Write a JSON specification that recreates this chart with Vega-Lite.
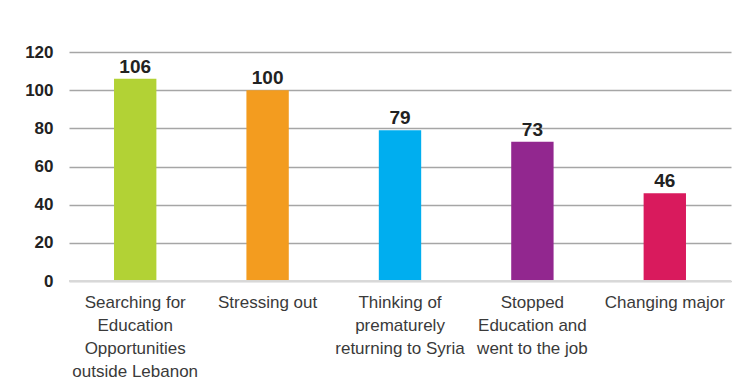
{
  "$schema": "https://vega.github.io/schema/vega-lite/v6.json",
  "autosize": "none",
  "width": 662,
  "height": 229,
  "padding": {"left": 69, "top": 52, "right": 24, "bottom": 104},
  "background": "white",
  "config": {
    "view": {"stroke": null},
    "font": "Liberation Sans"
  },
  "data": {
    "values": [
      {"category": "Searching for Education Opportunities outside Lebanon", "value": 106, "color": "#b2d235"},
      {"category": "Stressing out", "value": 100, "color": "#f39c1f"},
      {"category": "Thinking of prematurely returning to Syria", "value": 79, "color": "#00aeef"},
      {"category": "Stopped Education and went to the job", "value": 73, "color": "#92278f"},
      {"category": "Changing major", "value": 46, "color": "#d91a5d"}
    ]
  },
  "encoding": {
    "x": {
      "field": "category",
      "type": "nominal",
      "sort": null,
      "scale": {"paddingInner": 0.68, "paddingOuter": 0.34},
      "axis": {
        "title": null,
        "labelAngle": 0,
        "domain": false,
        "ticks": false,
        "labelPadding": 13,
        "labelFontSize": 17,
        "labelColor": "#3a3a3a",
        "labelLineHeight": 23,
        "labelBaseline": "top",
        "labelLimit": 220,
        "labelExpr": "datum.value == 'Searching for Education Opportunities outside Lebanon' ? ['Searching for','Education','Opportunities','outside Lebanon'] : datum.value == 'Thinking of prematurely returning to Syria' ? ['Thinking of','prematurely','returning to Syria'] : datum.value == 'Stopped Education and went to the job' ? ['Stopped','Education and','went to the job'] : datum.value"
      }
    },
    "y": {
      "field": "value",
      "type": "quantitative",
      "scale": {"domain": [0, 120]},
      "axis": {
        "title": null,
        "values": [0, 20, 40, 60, 80, 100, 120],
        "domain": false,
        "ticks": false,
        "labelPadding": 16,
        "labelFontSize": 17,
        "labelFontWeight": "bold",
        "labelColor": "#222222",
        "gridColor": "#a6a6a6",
        "gridWidth": 1.5
      }
    }
  },
  "layer": [
    {
      "mark": {"type": "bar"},
      "encoding": {
        "color": {"field": "color", "type": "nominal", "scale": null, "legend": null}
      }
    },
    {
      "mark": {"type": "rule", "color": "#d9d9d9", "strokeWidth": 1},
      "encoding": {"y": {"datum": 0}, "x": null}
    },
    {
      "mark": {"type": "text", "dy": -12, "fontSize": 19, "fontWeight": "bold", "color": "#222222"},
      "encoding": {"text": {"field": "value", "type": "quantitative"}}
    }
  ]
}
